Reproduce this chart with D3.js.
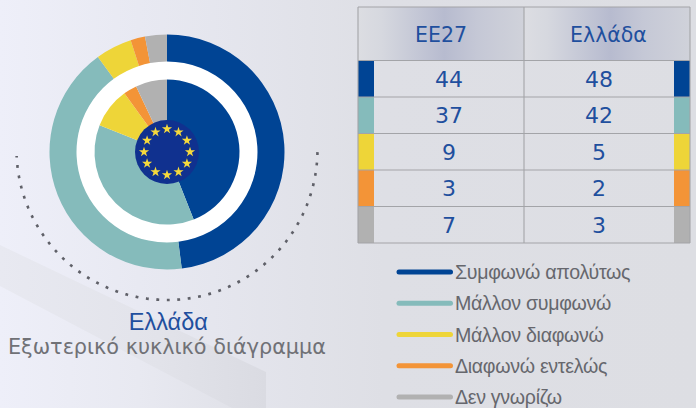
<!DOCTYPE html>
<html><head><meta charset="utf-8">
<script src="https://cdn.jsdelivr.net/npm/d3@7"></script>
<style>html,body{margin:0;padding:0;background:#dfe0e6}svg{display:block}</style>
</head><body><svg id="c" width="696" height="408"></svg>
<script>
const categories = ["Συμφωνώ απολύτως","Μάλλον συμφωνώ","Μάλλον διαφωνώ","Διαφωνώ εντελώς","Δεν γνωρίζω"];
const colors = ["#004494","#85bbbb","#eed538","#f39437","#b1b1b1"];
const columns = ["ΕΕ27","Ελλάδα"];
const eu27 = [44,37,9,3,7];
const greece = [48,42,5,2,3];
const titleMain = "Ελλάδα";
const titleSub = "Εξωτερικό κυκλικό διάγραμμα";

const svg = d3.select("#c");
const defs = svg.append("defs");
function grad(id,stops){
  const g=defs.append("linearGradient").attr("id",id).attr("x1",0).attr("x2",1).attr("y1",0).attr("y2",0);
  stops.forEach(s=>g.append("stop").attr("offset",s[0]).attr("stop-color",s[1]));
}
grad("bg",[[0,"#eeeff9"],[0.2,"#e8e9f2"],[0.55,"#dedfe5"],[1,"#dddee3"]]);
grad("hd",[[0,"#dcdde2"],[0.14,"#d6d8df"],[0.52,"#b7bbcf"],[0.72,"#c5c8d6"],[1,"#d0d2da"]]);
grad("band",[[0,"#e8e9f1"],[0.6,"#e2e3ea"],[1,"#dadbe2"]]);
grad("lite",[[0,"#eeeff9"],[0.6,"#e8e9f1"],[1,"#e1e2e9"]]);
svg.append("rect").attr("width",696).attr("height",408).attr("fill","url(#bg)");

// faint background facets
svg.append("path").attr("d","M0 245L266 372V408H0Z").attr("fill","url(#band)");
svg.append("path").attr("d","M0 286L232 408H0Z").attr("fill","url(#lite)");

// donuts
const cx=167, cy=152;
const g = svg.append("g").attr("transform",`translate(${cx},${cy})`);
const pie = d3.pie().sort(null);
const outerArc = d3.arc().innerRadius(90.5).outerRadius(117.5);
const innerArc = d3.arc().innerRadius(30).outerRadius(72.5);
g.append("circle").attr("r",91).attr("fill","#fff");
g.selectAll("path.o").data(pie(greece)).join("path").attr("class","o").attr("d",outerArc).attr("fill",(d,i)=>colors[i]);
g.selectAll("path.i").data(pie(eu27)).join("path").attr("class","i").attr("d",innerArc).attr("fill",(d,i)=>colors[i]);

// EU flag
g.append("circle").attr("r",32).attr("fill","#10318f");
const starAngle = d3.scaleLinear().domain([0,12]).range([0,2*Math.PI]);
const star = d3.symbol().type(d3.symbolStar).size(32);
g.selectAll("path.s").data(d3.range(12)).join("path").attr("class","s").attr("d",star)
  .attr("fill","#f6d93c")
  .attr("transform",d=>`translate(${23*Math.sin(starAngle(d))},${-23*Math.cos(starAngle(d))})`);

// dotted arc
const deg = d3.scaleLinear().domain([0,360]).range([0,2*Math.PI]);
const dotted = d3.arc().innerRadius(150.5).outerRadius(150.5).startAngle(deg(91)).endAngle(deg(267.5));
svg.append("path").attr("transform",`translate(${cx},149.5)`).attr("d",dotted()).attr("fill","none").attr("stroke","#5f6068").attr("stroke-width",2.6).attr("stroke-dasharray","2.6 7.9");

// titles
svg.append("text").attr("x",168.3).attr("y",330).attr("text-anchor","middle").attr("font-family","Liberation Sans").attr("font-size",23.5).attr("fill","#1f4f9e").text(titleMain);
svg.append("text").attr("x",167).attr("y",354).attr("text-anchor","middle").attr("font-family","DejaVu Sans").attr("font-size",20.8).attr("fill","#707176").text(titleSub);

// table
const tx = d3.scaleBand().domain(columns).range([358,690]);
const ty = d3.scaleBand().domain(categories).range([60.5,243]);
const line="#a3a4a8", text="#1f4f9e";
const tbl = svg.append("g");
columns.forEach((c,k)=>{
  tbl.append("rect").attr("x",tx(c)).attr("y",7).attr("width",tx.bandwidth()).attr("height",53.5).attr("fill","url(#hd)");
  tbl.append("text").attr("x",tx(c)+tx.bandwidth()/2+(k?1.5:0)).attr("y",42).attr("text-anchor","middle")
    .attr("font-family","DejaVu Sans").attr("font-size",20.5).attr("fill",text).text(c);
});
[eu27,greece].forEach((vals,k)=>{
  const c=columns[k];
  tbl.selectAll("rect.sw"+k).data(vals).join("rect").attr("class","sw"+k)
    .attr("x",k===0?tx(c):tx(c)+tx.bandwidth()-16).attr("y",(d,i)=>ty(categories[i])).attr("width",16).attr("height",ty.bandwidth()).attr("fill",(d,i)=>colors[i]);
  tbl.selectAll("text.v"+k).data(vals).join("text").attr("class","v"+k)
    .attr("x",tx(c)+tx.bandwidth()/2+(k===0?8:-8)).attr("y",(d,i)=>ty(categories[i])+ty.bandwidth()/2+8)
    .attr("text-anchor","middle").attr("font-family","DejaVu Sans").attr("font-size",22).attr("fill",text).text(d=>d);
});
const hl=[7,...categories.map(c=>ty(c)),243];
tbl.selectAll("line.h").data(hl).join("line").attr("class","h").attr("x1",358).attr("x2",690).attr("y1",d=>d).attr("y2",d=>d).attr("stroke",line).attr("stroke-width",1.2);
tbl.selectAll("line.v").data([358,tx(columns[1]),690]).join("line").attr("class","v").attr("x1",d=>d).attr("x2",d=>d).attr("y1",7).attr("y2",243).attr("stroke",line).attr("stroke-width",1.1);

// legend
const ly = d3.scalePoint().domain(categories).range([272,397]);
const lg = svg.selectAll("g.l").data(categories).join("g").attr("class","l").attr("transform",d=>`translate(0,${ly(d)})`);
lg.append("line").attr("x1",399).attr("x2",450.5).attr("stroke",(d,i)=>colors[i]).attr("stroke-width",5).attr("stroke-linecap","round");
lg.append("text").attr("x",455).attr("y",7).attr("font-family","Liberation Sans").attr("font-size",19.6).attr("letter-spacing",-0.3).attr("fill","#66676d").text(d=>d);
</script></body></html>
